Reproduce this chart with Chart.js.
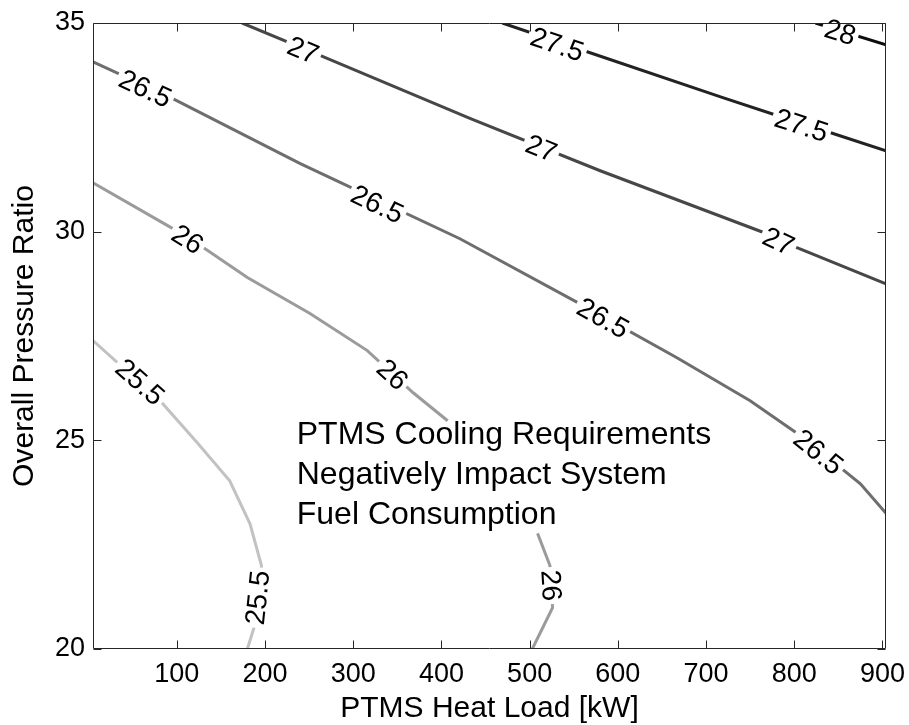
<!DOCTYPE html>
<html>
<head>
<meta charset="utf-8">
<script src="https://cdn.jsdelivr.net/npm/chart.js@4.4.1/dist/chart.umd.min.js"></script>
<style>
  html, body { margin: 0; padding: 0; background: #fff; }
  #wrap { width: 909px; height: 725px; position: relative; }
</style>
</head>
<body>
<div id="wrap"><canvas id="contourChart"></canvas></div>
<script>
// contour levels and their grey shades
const levels = [25.5, 26, 26.5, 27, 27.5, 28];
const levelColors = ['#c2c2c2', '#9b9b9b', '#6e6e6e', '#474747', '#222222', '#0d0d0d'];

// contour lines (heat load kW, pressure ratio)
const c255X = [5, 39, 81, 123, 160, 183, 196, 189, 180];
const c255Y = [27.39, 26.74, 25.95, 24.95, 24.03, 23.0, 22.0, 20.61, 20];
// 26 line is hidden behind the note text, so it has a gap
const c26X = [5, 100, 130, 180, 251, 316, 368, 407, null, 509, 523, 526, 503];
const c26Y = [31.17, 30.02, 29.62, 28.9, 28.04, 27.15, 26.14, 25.47, null, 22.77, 22.0, 20.99, 20];
const c265X = [5, 96, 240, 421, 565, 667, 750, 810, 875, 904];
const c265Y = [34.07, 33.18, 31.63, 29.83, 28.18, 26.98, 25.95, 25.07, 23.96, 23.25];
const c27X = [174, 263, 433, 580, 769, 803, 904];
const c27Y = [35, 34.22, 32.71, 31.46, 29.95, 29.62, 28.75];
const c275X = [469, 561, 719, 784, 837, 904];
const c275Y = [35, 34.34, 33.21, 32.76, 32.40, 31.94];
const c28X = [824, 904];
const c28Y = [35, 34.48];

// inline contour labels
const labelLevels = [28, 27.5, 27.5, 27, 27, 27, 26.5, 26.5, 26.5, 26.5, 26, 26, 26, 25.5, 25.5];
const labelX = [852, 531, 808, 243, 513, 782, 64, 327, 583, 827, 112, 344, 524, 58, 192];
const labelY = [34.77, 34.48, 32.54, 34.34, 31.99, 29.76, 33.42, 30.65, 27.92, 24.71, 29.81, 26.57, 21.52, 26.39, 21.23];

// axis ticks
const xTicks = [100, 200, 300, 400, 500, 600, 700, 800, 900];
const yTicks = [20, 25, 30, 35];

// text note
const noteLines = ['PTMS Cooling Requirements', 'Negatively Impact System', 'Fuel Consumption'];
const noteX = 236;
const noteY = 24.92;

const lineXs = [c255X, c26X, c265X, c27X, c275X, c28X];
const lineYs = [c255Y, c26Y, c265Y, c27Y, c275Y, c28Y];

const FONT = '"Liberation Sans", Arial, Helvetica, sans-serif';
Chart.defaults.font.family = FONT;
Chart.defaults.color = '#000';

const datasets = levels.map((lev, i) => ({
    label: String(lev),
    data: lineXs[i].map((v, k) => ({ x: v, y: lineYs[i][k] })),
    showLine: true,
    spanGaps: false,
    borderColor: levelColors[i],
    backgroundColor: levelColors[i],
    borderWidth: 3,
    pointRadius: 0,
    tension: 0
}));

function segDist(px, py, a, b) {
    const dx = b.x - a.x, dy = b.y - a.y;
    const len = dx * dx + dy * dy;
    let t = len ? ((px - a.x) * dx + (py - a.y) * dy) / len : 0;
    t = Math.max(0, Math.min(1, t));
    const qx = a.x + t * dx - px, qy = a.y + t * dy - py;
    return Math.sqrt(qx * qx + qy * qy);
}

// labels sit on the lines, rotated along them, with the line cut underneath
const contourLabels = {
    id: 'contourLabels',
    afterDatasetsDraw(chart) {
        const { ctx, scales: { x, y } } = chart;
        ctx.save();
        ctx.font = '28px ' + FONT;
        ctx.textAlign = 'center';
        ctx.textBaseline = 'middle';
        labelLevels.forEach((lev, i) => {
            const pts = chart.getDatasetMeta(levels.indexOf(lev)).data;
            const px = x.getPixelForValue(labelX[i]);
            const py = y.getPixelForValue(labelY[i]);
            let best = Infinity, ang = 0;
            for (let k = 0; k < pts.length - 1; k++) {
                const a = pts[k], b = pts[k + 1];
                if (a.skip || b.skip || !isFinite(a.y) || !isFinite(b.y)) continue;
                const d = segDist(px, py, a, b);
                if (d < best) { best = d; ang = Math.atan2(b.y - a.y, b.x - a.x); }
            }
            if (ang > Math.PI / 2) ang -= Math.PI;
            if (ang <= -Math.PI / 2) ang += Math.PI;
            const txt = String(lev);
            const w = ctx.measureText(txt).width;
            ctx.save();
            ctx.translate(px, py);
            ctx.rotate(ang);
            ctx.fillStyle = '#fff';
            ctx.fillRect(-w / 2 - 3, -10, w + 6, 20);
            ctx.fillStyle = '#000';
            ctx.fillText(txt, 0, 1);
            ctx.restore();
        });
        ctx.restore();
    }
};

const noteText = {
    id: 'noteText',
    afterDatasetsDraw(chart) {
        const { ctx, scales: { x, y } } = chart;
        ctx.save();
        ctx.font = '32px ' + FONT;
        ctx.fillStyle = '#000';
        ctx.textAlign = 'left';
        ctx.textBaseline = 'alphabetic';
        const px = x.getPixelForValue(noteX);
        const py = y.getPixelForValue(noteY);
        noteLines.forEach((t, i) => ctx.fillText(t, px, py + i * 40));
        ctx.restore();
    }
};

// MATLAB style box with inward ticks on all four sides
const boxTicks = {
    id: 'boxTicks',
    afterDraw(chart) {
        const { ctx, chartArea: a, scales: { x, y } } = chart;
        const L = Math.round(a.left) + 0.5, R = Math.round(a.right) - 0.5;
        const T = Math.round(a.top) + 0.5, B = Math.round(a.bottom) - 0.5;
        ctx.save();
        ctx.strokeStyle = '#262626';
        ctx.lineWidth = 1;
        ctx.beginPath();
        ctx.rect(L, T, R - L, B - T);
        xTicks.forEach(v => {
            const p = Math.round(x.getPixelForValue(v)) + 0.5;
            ctx.moveTo(p, B); ctx.lineTo(p, B - 8);
            ctx.moveTo(p, T); ctx.lineTo(p, T + 8);
        });
        yTicks.forEach(v => {
            const p = Math.round(y.getPixelForValue(v)) + 0.5;
            ctx.moveTo(L, p); ctx.lineTo(L + 8, p);
            ctx.moveTo(R, p); ctx.lineTo(R - 8, p);
        });
        ctx.stroke();
        ctx.restore();
    }
};

const ctx = document.getElementById('contourChart').getContext('2d');
const contourChart = new Chart(ctx, {
    type: 'scatter',
    data: { datasets: datasets },
    options: {
        responsive: true,
        maintainAspectRatio: false,
        animation: false,
        layout: { padding: { top: 23, right: 23, left: 0, bottom: 0 } },
        plugins: {
            legend: { display: false },
            tooltip: { enabled: false }
        },
        scales: {
            x: {
                type: 'linear',
                min: 5,
                max: 904,
                grid: { display: false, drawTicks: false },
                border: { display: false },
                afterBuildTicks: s => { s.ticks = xTicks.map(v => ({ value: v })); },
                afterFit: s => { s.height = 76; s.paddingLeft = 0; s.paddingRight = 0; },
                ticks: { font: { size: 27 }, padding: 9, maxRotation: 0, color: '#000' },
                title: {
                    display: true,
                    text: 'PTMS Heat Load [kW]',
                    font: { size: 30, lineHeight: 1 },
                    padding: { top: 0, bottom: 1 },
                    color: '#000'
                }
            },
            y: {
                type: 'linear',
                min: 20,
                max: 35,
                grid: { display: false, drawTicks: false },
                border: { display: false },
                afterBuildTicks: s => { s.ticks = yTicks.map(v => ({ value: v })); },
                afterFit: s => { s.width = 93; s.paddingTop = 0; s.paddingBottom = 0; },
                ticks: { font: { size: 27 }, padding: 8, color: '#000' },
                title: {
                    display: true,
                    text: 'Overall Pressure Ratio',
                    font: { size: 30, lineHeight: 1 },
                    padding: { top: 10, bottom: 0 },
                    color: '#000'
                }
            }
        }
    },
    plugins: [contourLabels, noteText, boxTicks]
});
</script>
</body>
</html>
